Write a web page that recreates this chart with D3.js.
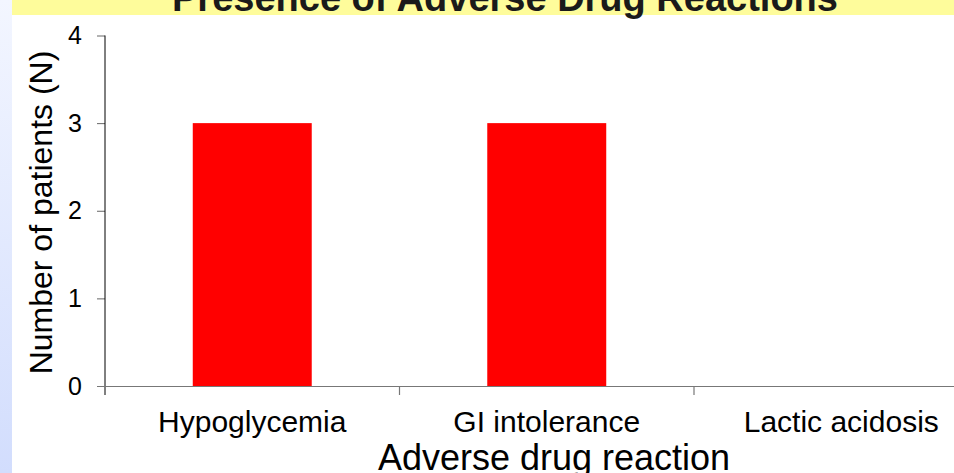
<!DOCTYPE html>
<html>
<head>
<meta charset="utf-8">
<script src="https://cdn.jsdelivr.net/npm/d3@7"></script>
<style>
  html, body { margin: 0; padding: 0; background: #fff; }
  svg { display: block; font-family: "Liberation Sans", Arial, sans-serif; }
</style>
</head>
<body>
<svg id="chart" width="954" height="473"></svg>
<script>
const categories = ["Hypoglycemia", "GI intolerance", "Lactic acidosis"];
const values = [3, 3, 0];
const yTicks = [0, 1, 2, 3, 4];
const titleText = "Presence of Adverse Drug Reactions";
const xTitle = "Adverse drug reaction";
const yTitle = "Number of patients (N)";

const svg = d3.select("#chart");
const W = 954, H = 473;

// background decorations
const defs = svg.append("defs");
const grad = defs.append("linearGradient").attr("id", "sideGrad")
  .attr("x1", 0).attr("y1", 0).attr("x2", 0).attr("y2", 1);
grad.append("stop").attr("offset", "0%").attr("stop-color", "#f3f6ff");
grad.append("stop").attr("offset", "100%").attr("stop-color", "#d2ddfd");

svg.append("rect").attr("x", 0).attr("y", 0).attr("width", W).attr("height", H).attr("fill", "#ffffff");
svg.append("rect").attr("x", 0).attr("y", 0).attr("width", 12).attr("height", H).attr("fill", "url(#sideGrad)");
svg.append("rect").attr("x", 12).attr("y", 0).attr("width", W - 12).attr("height", 15).attr("fill", "#fefc9b");

svg.append("text")
  .attr("x", 505).attr("y", 11)
  .attr("text-anchor", "middle")
  .attr("font-size", 38).attr("font-weight", "bold")
  .attr("fill", "#1a1a1a")
  .text(titleText);

// scales
const x0 = 105, x1 = 988.5, y0 = 386, y1 = 35.5;
const pad = 0.596;
const x = d3.scaleBand().domain(categories).range([x0, x1])
  .paddingInner(pad).paddingOuter(pad / 2);
const y = d3.scaleLinear().domain([0, 4]).range([y0, y1]);
const step = x.step();

// bars
svg.append("g").selectAll("rect").data(categories).join("rect")
  .attr("x", d => x(d))
  .attr("y", (d, i) => y(values[i]))
  .attr("width", x.bandwidth())
  .attr("height", (d, i) => y(0) - y(values[i]))
  .attr("fill", "#ff0000");

// y axis
const yAxis = d3.axisLeft(y).tickValues(yTicks).tickFormat(d3.format("d")).tickSize(8).tickPadding(15);
const gy = svg.append("g").attr("transform", `translate(${x0},0)`).call(yAxis);
gy.select(".domain").remove();
gy.selectAll(".tick line").attr("stroke", "#666");
gy.selectAll(".tick text").attr("font-size", 25).attr("fill", "#000")
  .attr("font-family", "Liberation Sans, Arial, sans-serif");
gy.append("line").attr("x1", 0).attr("x2", 0).attr("y1", y(4)).attr("y2", y0 + 9)
  .attr("stroke", "#000").attr("stroke-width", 1);

// x axis baseline and category ticks
const gx = svg.append("g");
gx.append("line").attr("x1", x0 - 8).attr("x2", x1).attr("y1", y0 + 0.5).attr("y2", y0 + 0.5)
  .attr("stroke", "#777").attr("stroke-width", 1.2);
const bounds = categories.map(c => x(c) - step * pad / 2).concat([x1]);
gx.selectAll("line.ct").data(bounds.slice(1)).join("line").attr("class", "ct")
  .attr("x1", d => d).attr("x2", d => d)
  .attr("y1", y0).attr("y2", y0 + 9)
  .attr("stroke", "#777").attr("stroke-width", 1.2);
gx.selectAll("text.cl").data(categories).join("text").attr("class", "cl")
  .attr("x", d => x(d) + x.bandwidth() / 2)
  .attr("y", 432)
  .attr("text-anchor", "middle")
  .attr("font-size", 30)
  .attr("fill", "#000")
  .text(d => d);

// axis titles
svg.append("text")
  .attr("x", 554).attr("y", 470)
  .attr("text-anchor", "middle")
  .attr("font-size", 36).attr("fill", "#000")
  .text(xTitle);
svg.append("text")
  .attr("transform", "translate(52,212.5) rotate(-90)")
  .attr("text-anchor", "middle")
  .attr("font-size", 32).attr("fill", "#000")
  .text(yTitle);
</script>
</body>
</html>
